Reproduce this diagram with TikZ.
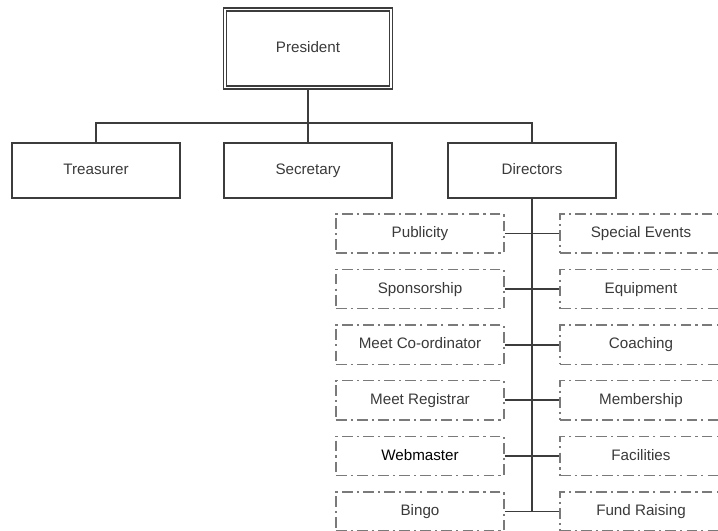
\documentclass[tikz,border=0pt]{standalone}
\usepackage{fontspec}
\setmainfont{Liberation Sans}
\usetikzlibrary{positioning}
\definecolor{boxline}{HTML}{3C3C3C}
\definecolor{dashline}{HTML}{7A7A7A}
\definecolor{labeltext}{HTML}{3A3A3A}
\tikzset{
  officebox/.style={draw=boxline,line width=1.3pt,fill=white,inner sep=0pt,
    minimum width=4.2cm,minimum height=1.375cm,text=labeltext,
    text height=1.6ex,text depth=0.45ex},
  rolebox/.style={draw=dashline,line width=1.1pt,fill=white,inner sep=0pt,
    dash pattern=on 7.5pt off 3pt on 1.5pt off 3pt,
    minimum width=4.2cm,minimum height=0.98cm,text=labeltext,
    text height=1.6ex,text depth=0.45ex},
  link/.style={draw=boxline,line width=1.4pt},
}

\begin{document}
\begin{tikzpicture}[x=0.025cm,y=-0.025cm,font=\fontsize{10.8}{13}\selectfont]
    \clip (0,0) rectangle (718,531);
    \fill[white] (0,0) rectangle (718,531);
    % top level
    \node[officebox,double,double distance=1.3pt,line width=0.9pt,
      minimum width=4.15cm,minimum height=1.95cm] (pres) at (308,48.5) {President};
    \node[officebox] (treas) at (96,170.5) {Treasurer};
    \node[officebox] (sec) at (308,170.5) {Secretary};
    \node[officebox] (dir) at (532,170.5) {Directors};
    \coordinate (bar) at (0,123);
    \draw[link] (pres.south) -- (pres.south |- bar);
    \draw[link] (treas.north) -- (treas.north |- bar) -- (dir.north |- bar) -- (dir.north);
    \draw[link] (sec.north) -- (sec.north |- bar);
    % directors, left column
    \node[rolebox] (pub) at (420,233.5) {Publicity};
    \node[rolebox] (spon) at (420,289.1) {Sponsorship};
    \node[rolebox] (coord) at (420,344.7) {Meet Co-ordinator};
    \node[rolebox] (regis) at (420,400.3) {Meet Registrar};
    \node[rolebox,text=black] (web) at (420,455.9) {Webmaster};
    \node[rolebox] (bingo) at (420,511.5) {Bingo};
    % directors, right column
    \node[rolebox,minimum width=4.05cm] (events) at (641,233.5) {Special Events};
    \node[rolebox,minimum width=4.05cm] (equip) at (641,289.1) {Equipment};
    \node[rolebox,minimum width=4.05cm] (coach) at (641,344.7) {Coaching};
    \node[rolebox,minimum width=4.05cm] (member) at (641,400.3) {Membership};
    \node[rolebox,minimum width=4.05cm] (facil) at (641,455.9) {Facilities};
    \node[rolebox,minimum width=4.05cm] (fund) at (641,511.5) {Fund Raising};
    % trunk and branches
    \draw[link,line width=2pt] (dir.south) -- (dir.south |- bingo.east);
    \draw[link] (pub.east) -- (events.west);
    \draw[link] (spon.east) -- (equip.west);
    \draw[link] (coord.east) -- (coach.west);
    \draw[link] (regis.east) -- (member.west);
    \draw[link] (web.east) -- (facil.west);
    \draw[link] (bingo.east) -- (fund.west);
  \end{tikzpicture}
\end{document}
